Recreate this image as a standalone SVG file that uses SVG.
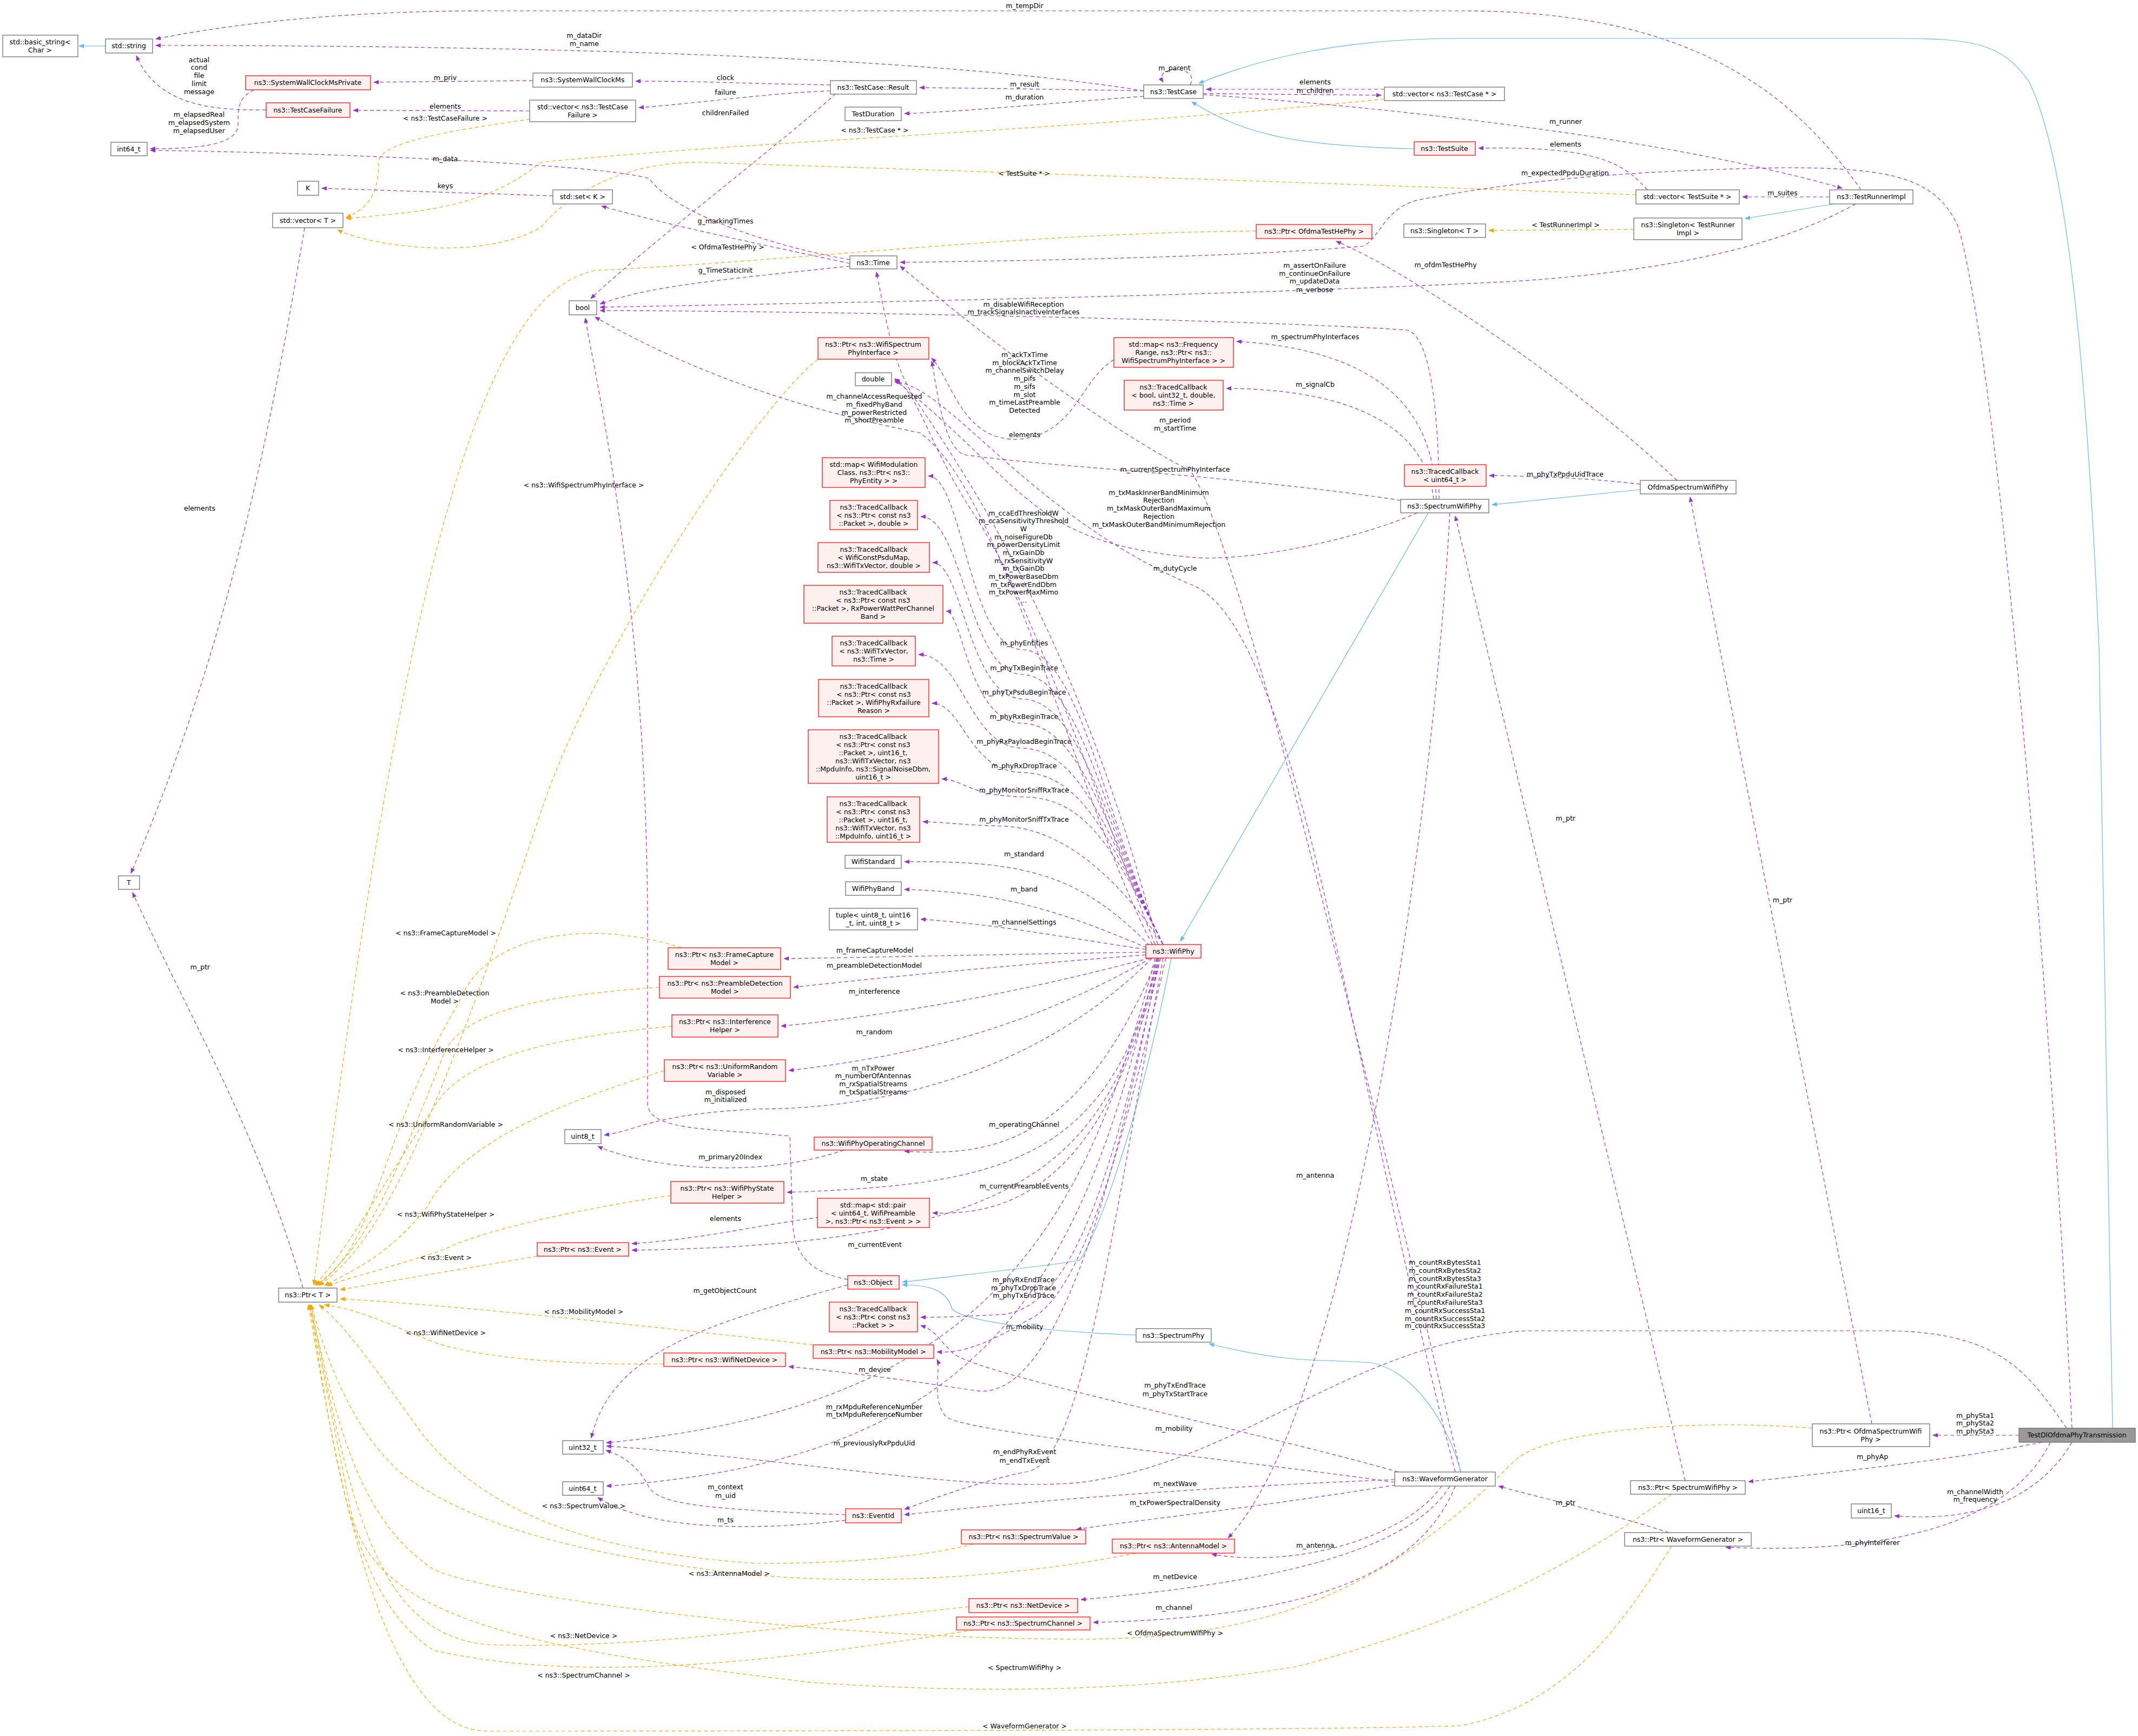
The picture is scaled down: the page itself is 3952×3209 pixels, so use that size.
<svg xmlns="http://www.w3.org/2000/svg" width="3952" height="3209" viewBox="0 0 3952 3209">
<style>
text{font-family:"DejaVu Sans","Liberation Sans",sans-serif;font-size:12.5px;fill:#000;text-anchor:middle}
.n{fill:#fff;stroke:#666;stroke-width:1.2}
.r{fill:#fff0f0;stroke:#f00;stroke-width:1.2}
.g{fill:#999;stroke:#666;stroke-width:1.2}
.u{fill:none;stroke:#9a32cd;stroke-width:1.2;stroke-dasharray:7,5;marker-end:url(#mp)}
.o{fill:none;stroke:#ffa500;stroke-width:1.2;stroke-dasharray:7,5;marker-end:url(#mo)}
.b{fill:none;stroke:#63b8ff;stroke-width:1.2;marker-end:url(#mb)}
</style>
<defs>
<marker id="mp" viewBox="0 0 10 10" refX="9" refY="5" markerWidth="10" markerHeight="10" markerUnits="userSpaceOnUse" orient="auto"><path d="M0,1L10,5L0,9z" fill="#9a32cd"/></marker>
<marker id="mo" viewBox="0 0 10 10" refX="9" refY="5" markerWidth="10" markerHeight="10" markerUnits="userSpaceOnUse" orient="auto"><path d="M0,1L10,5L0,9z" fill="#ffa500"/></marker>
<marker id="mb" viewBox="0 0 10 10" refX="9" refY="5" markerWidth="10" markerHeight="10" markerUnits="userSpaceOnUse" orient="auto"><path d="M0,1L10,5L0,9z" fill="#63b8ff"/></marker>
</defs>
<rect width="3952" height="3209" fill="#fff"/>
<g id="connectors">
<path class="b" d="M195,85 L146,85"/>
<path class="u" d="M3440,351 C3300,150 3100,20 2700,20 L900,20 C600,20 400,50 288,72"/>
<path class="u" d="M2114,168 C1700,100 900,84 288,84"/>
<path class="u" d="M492,203 C380,205 290,190 252,103"/>
<path class="u" d="M985,149 L691,152"/>
<path class="u" d="M1535,157 C1400,155 1300,150 1175,150"/>
<path class="u" d="M1535,168 C1420,172 1300,190 1181,199"/>
<path class="u" d="M1545,173 C1450,260 1200,450 1092,552"/>
<path class="u" d="M979,205 L653,204"/>
<path class="o" d="M980,220 C850,240 700,260 700,300 C700,360 680,385 640,402"/>
<path class="u" d="M470,166 C440,180 440,200 440,230 C440,265 380,275 278,275"/>
<path class="u" d="M1571,480 C1450,460 1250,400 1200,330 C1100,300 500,280 278,278"/>
<path class="u" d="M1022,362 L595,348"/>
<path class="u" d="M1571,487 C1400,450 1250,420 1112,381"/>
<path class="u" d="M1571,492 C1300,520 1200,530 1109,562"/>
<path class="o" d="M2559,183 C2000,240 1400,260 1000,300 C900,380 800,390 640,404"/>
<path class="o" d="M3024,360 C2500,340 1600,310 1290,300 C1150,300 1050,360 1000,420 C900,480 700,460 624,425"/>
<path class="o" d="M2322,427 C1900,430 1500,480 1100,500 C900,540 750,1000 580,2375"/>
<path class="u" d="M3100,888 C2900,700 2600,500 2470,446"/>
<path class="u" d="M2200,157 C2220,120 2130,120 2150,152"/>
<path class="u" d="M2114,168 C1950,165 1800,163 1700,162"/>
<path class="u" d="M2114,178 C1950,190 1800,205 1672,210"/>
<path class="u" d="M2559,165 L2230,165"/>
<path class="u" d="M2224,173 L2553,176"/>
<path class="b" d="M2614,275 C2400,270 2300,250 2203,188"/>
<path class="b" d="M3905,2640 L3880,1200 C3850,500 3800,250 3750,150 C3700,80 3650,71 3500,71 L2700,71 C2450,71 2300,120 2216,154"/>
<path class="u" d="M2224,175 C2600,200 3100,260 3405,348"/>
<path class="u" d="M3045,351 C3000,300 2950,270 2733,274"/>
<path class="u" d="M3382,364 L3221,364"/>
<path class="b" d="M3390,377 L3226,404"/>
<path class="o" d="M3020,424 L2752,426"/>
<path class="u" d="M3430,377 C3300,450 3100,500 2800,520 C2200,550 1500,560 1109,568"/>
<path class="u" d="M3830,2640 C3800,2000 3700,700 3620,420 C3580,330 3500,310 3300,310 C3000,315 2800,335 2620,370 C2560,385 2550,440 2520,455 C2300,475 1900,482 1664,485"/>
<path class="u" d="M2660,923 C2660,800 2650,620 2600,610 C2300,590 1500,575 1109,574"/>
<path class="u" d="M2655,923 C2650,800 2600,650 2286,631"/>
<path class="u" d="M2650,923 C2640,820 2550,720 2267,718"/>
<path class="u" d="M2589,925 C2300,880 1900,860 1780,840 C1740,820 1730,700 1722,668"/>
<path class="u" d="M2620,948 C2500,1000 2300,1040 2200,1030 C1900,1000 1900,900 1654,702"/>
<path class="u" d="M2700,2721 C2600,2300 2300,1000 2200,870 C2100,820 1900,690 1664,492"/>
<path class="u" d="M2690,2721 C2500,2000 2400,1150 2200,1080 C1900,950 1750,710 1654,706"/>
<path class="u" d="M2059,665 C2000,700 1990,790 1900,810 C1780,830 1760,700 1722,662"/>
<path class="u" d="M3032,895 C2900,880 2800,880 2753,879"/>
<path class="b" d="M3032,905 L2758,933"/>
<path class="u" d="M3460,2632 L3124,919"/>
<path class="u" d="M3115,2737 L2690,954"/>
<path class="b" d="M2640,948 L2182,1740"/>
<path class="b" d="M2165,1771 C2100,2100 2020,2300 1995,2330 C1900,2345 1750,2360 1668,2370"/>
<path class="b" d="M2100,2468 C1900,2460 1780,2440 1760,2420 C1750,2385 1720,2375 1668,2375"/>
<path class="b" d="M2700,2721 C2680,2640 2620,2540 2540,2520 C2450,2510 2400,2525 2235,2484"/>
<path class="u" d="M1567,2365 C1480,2350 1465,2300 1465,2250 L1460,2100 C1300,2085 1200,2090 1197,2040 L1197,1700 C1195,1100 1100,700 1082,588"/>
<path class="u" d="M1567,2375 C1300,2450 1130,2500 1093,2658"/>
<path class="u" d="M2130,1771 C1900,2000 1600,2050 1400,2050 C1200,2060 1180,2090 1117,2098"/>
<path class="u" d="M1560,2126 C1400,2180 1200,2160 1105,2119"/>
<path class="u" d="M1515,2250 C1400,2265 1300,2290 1168,2299"/>
<path class="u" d="M2140,1771 C2050,2150 1900,2300 1168,2311"/>
<path class="u" d="M560,2381 C480,2100 360,1900 245,1650"/>
<path class="u" d="M563,421 C500,800 420,1200 242,1614"/>
<path class="u" d="M2135,1771 C2000,2300 1800,2600 1121,2667"/>
<path class="u" d="M2138,1771 C2000,2400 1800,2700 1121,2747"/>
<path class="u" d="M1563,2800 C1300,2790 1220,2780 1200,2750 C1180,2710 1150,2690 1120,2681"/>
<path class="u" d="M1563,2810 C1400,2830 1200,2830 1105,2768"/>
<path class="u" d="M2150,1771 C2050,2300 2000,2700 1900,2720 C1800,2740 1700,2780 1672,2790"/>
<path class="u" d="M2578,2735 C2200,2750 1900,2775 1672,2800"/>
<path class="u" d="M2580,2745 C2300,2790 2100,2810 1990,2827"/>
<path class="u" d="M2665,2747 C2600,2840 2400,2900 2240,2873"/>
<path class="u" d="M2680,948 C2650,1500 2500,2600 2270,2843"/>
<path class="u" d="M2680,2747 C2600,2880 2300,2930 1998,2957"/>
<path class="u" d="M2690,2747 C2620,2920 2400,2990 2021,2999"/>
<path class="u" d="M2578,2740 C2300,2700 1800,2650 1750,2620 C1720,2590 1740,2530 1732,2513"/>
<path class="u" d="M2585,2721 C2300,2640 1800,2540 1760,2500 C1730,2470 1730,2460 1702,2450"/>
<path class="u" d="M2155,1771 C2080,2100 2000,2400 1900,2440 C1800,2500 1760,2500 1732,2499"/>
<path class="u" d="M2145,1771 C2070,2100 2000,2420 1850,2430 C1750,2435 1730,2435 1702,2435"/>
<path class="u" d="M2142,1771 C2060,2200 1950,2600 1800,2570 C1600,2540 1500,2530 1458,2526"/>
<path class="u" d="M3085,2833 C2950,2790 2850,2770 2770,2747"/>
<path class="u" d="M3790,2666 C3700,2850 3400,2870 3190,2860"/>
<path class="u" d="M3830,2666 C3750,2800 3600,2810 3502,2802"/>
<path class="u" d="M3775,2666 C3600,2700 3400,2720 3232,2739"/>
<path class="u" d="M3732,2653 L3573,2653"/>
<path class="u" d="M3820,2640 C3750,2540 3700,2460 3480,2460 L2820,2460 C2500,2480 2300,2700 2000,2740 C1800,2760 1500,2700 1121,2673"/>
<path class="o" d="M1512,664 C1400,750 1100,1200 1000,1500 C800,2100 700,2300 590,2376"/>
<path class="o" d="M1260,1752 C1100,1700 900,1720 850,1850 C700,2100 700,2300 585,2376"/>
<path class="o" d="M1219,1825 C1000,1840 850,1870 820,1950 C720,2200 680,2300 585,2376"/>
<path class="o" d="M1242,1897 C1000,1920 850,1960 800,2050 C700,2200 650,2300 582,2376"/>
<path class="o" d="M1228,1979 C1000,2050 850,2120 790,2230 C720,2320 650,2350 600,2376"/>
<path class="o" d="M1240,2210 C1100,2230 900,2270 820,2310 C700,2350 650,2360 605,2377"/>
<path class="o" d="M993,2322 L629,2384"/>
<path class="o" d="M1503,2486 C1100,2440 800,2410 629,2401"/>
<path class="o" d="M1227,2521 C1000,2525 850,2500 800,2480 C700,2440 660,2420 600,2412"/>
<path class="o" d="M1800,2854 C1700,2880 1550,2890 1400,2890 C1100,2870 900,2800 780,2650 C700,2540 640,2450 590,2412"/>
<path class="o" d="M2100,2871 C1800,2930 1500,2930 1300,2900 C1000,2860 850,2800 750,2730 C650,2650 600,2500 575,2412"/>
<path class="o" d="M1791,2970 C1500,3000 1200,3050 900,3040 C700,3020 650,2800 575,2412"/>
<path class="o" d="M1800,3013 C1500,3060 1100,3120 800,3050 C650,2950 620,2700 573,2412"/>
<path class="o" d="M3350,2640 C3100,2620 2850,2650 2800,2700 C2600,2900 2400,3030 2000,3030 C1500,3030 900,2950 800,2900 C650,2800 620,2600 572,2412"/>
<path class="o" d="M3090,2762 C2900,2900 2700,3000 2400,3080 C2100,3130 1800,3130 1500,3110 C1000,3050 700,3000 650,2800 C620,2650 590,2500 572,2412"/>
<path class="o" d="M3090,2858 C3000,3000 2900,3150 2700,3190 C2400,3200 1200,3200 900,3200 C700,3200 620,2700 570,2412"/>
<path class="u" d="M2140,1746 C2000,1200 1800,900 1700,750 C1650,680 1640,600 1620,503"/>
<path class="u" d="M2135,1746 C2000,1400 1900,1100 1800,950 C1720,830 1700,730 1654,700"/>
<path class="u" d="M2130,1746 C2000,1500 1850,900 1700,800 C1500,760 1300,700 1100,586"/>
<path class="u" d="M2150,1746 C2050,1550 2000,1203 1890,1201 C1790,1199 1780,880 1716,880"/>
<path class="u" d="M2150,1746 C2050,1550 2000,1249 1890,1247 C1790,1245 1780,955 1702,955"/>
<path class="u" d="M2150,1746 C2050,1550 2000,1294 1890,1292 C1790,1290 1780,1040 1724,1040"/>
<path class="u" d="M2150,1746 C2050,1550 2000,1339 1890,1337 C1790,1335 1780,1130 1749,1130"/>
<path class="u" d="M2150,1746 C2050,1550 2000,1385 1890,1383 C1790,1381 1780,1210 1698,1210"/>
<path class="u" d="M2150,1746 C2050,1550 2000,1430 1890,1428 C1790,1426 1780,1300 1723,1300"/>
<path class="u" d="M2150,1746 C2050,1550 2000,1475 1890,1473 C1790,1471 1780,1440 1741,1440"/>
<path class="u" d="M2150,1746 C2050,1600 1950,1529 1850,1527 C1780,1525 1750,1520 1706,1519"/>
<path class="u" d="M2125,1748 C2000,1620 1900,1590 1672,1593"/>
<path class="u" d="M2120,1752 C1950,1680 1850,1650 1672,1644"/>
<path class="u" d="M2118,1755 C1950,1730 1850,1710 1702,1699"/>
<path class="u" d="M2118,1760 C1800,1765 1600,1770 1449,1772"/>
<path class="u" d="M2118,1765 C1800,1790 1600,1810 1467,1825"/>
<path class="u" d="M2125,1771 C1900,1830 1700,1870 1444,1897"/>
<path class="u" d="M2128,1771 C1900,1900 1700,1950 1458,1979"/>
<path class="u" d="M2140,1771 C2000,2100 1850,2140 1672,2128"/>
<path class="u" d="M2142,1771 C2050,2150 1850,2190 1455,2204"/>
<path class="u" d="M2145,1771 C2050,2150 1900,2250 1724,2242"/>
</g>
<g id="labels">
<text x="1894" y="15">m_tempDir</text>
<text x="1080" y="70">m_dataDir</text><text x="1080" y="85">m_name</text>
<text x="368" y="115">actual</text><text x="368" y="129">cond</text><text x="368" y="144">file</text><text x="368" y="159">limit</text><text x="368" y="174">message</text>
<text x="368" y="216">m_elapsedReal</text><text x="368" y="231">m_elapsedSystem</text><text x="368" y="246">m_elapsedUser</text>
<text x="823" y="148">m_priv</text><text x="1341" y="148">clock</text><text x="1341" y="175">failure</text><text x="1341" y="213">childrenFailed</text>
<text x="823" y="201">elements</text><text x="823" y="223">&lt; ns3::TestCaseFailure &gt;</text>
<text x="823" y="298">m_data</text><text x="823" y="348">keys</text><text x="1341" y="413">g_markingTimes</text>
<text x="1345" y="461">&lt; OfdmaTestHePhy &gt;</text><text x="1341" y="504">g_TimeStaticInit</text>
<text x="1079" y="901">&lt; ns3::WifiSpectrumPhyInterface &gt;</text><text x="369" y="944">elements</text>
<text x="2171" y="130">m_parent</text><text x="1894" y="160">m_result</text><text x="1894" y="184">m_duration</text>
<text x="2431" y="156">elements</text><text x="2431" y="172">m_children</text>
<text x="1617" y="245">&lt; ns3::TestCase * &gt;</text><text x="1893" y="325">&lt; TestSuite * &gt;</text>
<text x="2894" y="229">m_runner</text><text x="2894" y="271">elements</text><text x="2893" y="324">m_expectedPpduDuration</text>
<text x="3295" y="361">m_suites</text><text x="2894" y="420">&lt; TestRunnerImpl &gt;</text>
<text x="2430" y="495">m_assertOnFailure</text><text x="2430" y="510">m_continueOnFailure</text><text x="2430" y="524">m_updateData</text><text x="2430" y="540">m_verbose</text>
<text x="2672" y="494">m_ofdmTestHePhy</text>
<text x="1892" y="567">m_disableWifiReception</text><text x="1892" y="581">m_trackSignalsInactiveInterfaces</text>
<text x="2431" y="627">m_spectrumPhyInterfaces</text>
<text x="1894" y="660">m_ackTxTime</text><text x="1894" y="675">m_blockAckTxTime</text><text x="1894" y="689">m_channelSwitchDelay</text><text x="1894" y="704">m_pifs</text><text x="1894" y="719">m_sifs</text><text x="1894" y="734">m_slot</text><text x="1894" y="748">m_timeLastPreamble</text><text x="1894" y="763">Detected</text>
<text x="1616" y="737">m_channelAccessRequested</text><text x="1616" y="752">m_fixedPhyBand</text><text x="1616" y="767">m_powerRestricted</text><text x="1616" y="781">m_shortPreamble</text>
<text x="2431" y="715">m_signalCb</text><text x="2172" y="781">m_period</text><text x="2172" y="796">m_startTime</text>
<text x="1894" y="808">elements</text><text x="2172" y="872">m_currentSpectrumPhyInterface</text>
<text x="2142" y="915">m_txMaskInnerBandMinimum</text><text x="2142" y="929">Rejection</text><text x="2142" y="944">m_txMaskOuterBandMaximum</text><text x="2142" y="959">Rejection</text><text x="2142" y="974">m_txMaskOuterBandMinimumRejection</text>
<text x="1892" y="953">m_ccaEdThresholdW</text><text x="1892" y="967">m_ccaSensitivityThreshold</text><text x="1892" y="982">W</text><text x="1892" y="997">m_noiseFigureDb</text><text x="1892" y="1011">m_powerDensityLimit</text><text x="1892" y="1026">m_rxGainDb</text><text x="1892" y="1041">m_rxSensitivityW</text><text x="1892" y="1055">m_txGainDb</text><text x="1892" y="1070">m_txPowerBaseDbm</text><text x="1892" y="1085">m_txPowerEndDbm</text><text x="1892" y="1099">m_txPowerMaxMimo</text><text x="1892" y="1114">...</text>
<text x="2172" y="1055">m_dutyCycle</text><text x="2893" y="881">m_phyTxPpduUidTrace</text>
<text x="1893" y="1193">m_phyEntities</text><text x="1893" y="1239">m_phyTxBeginTrace</text><text x="1893" y="1284">m_phyTxPsduBeginTrace</text><text x="1893" y="1329">m_phyRxBeginTrace</text><text x="1893" y="1375">m_phyRxPayloadBeginTrace</text><text x="1893" y="1420">m_phyRxDropTrace</text><text x="1893" y="1465">m_phyMonitorSniffRxTrace</text><text x="1893" y="1519">m_phyMonitorSniffTxTrace</text>
<text x="1893" y="1583">m_standard</text><text x="1893" y="1648">m_band</text><text x="1893" y="1709">m_channelSettings</text>
<text x="1617" y="1761">m_frameCaptureModel</text><text x="1616" y="1789">m_preambleDetectionModel</text><text x="1616" y="1837">m_interference</text><text x="1616" y="1912">m_random</text>
<text x="1614" y="1979">m_nTxPower</text><text x="1614" y="1993">m_numberOfAntennas</text><text x="1614" y="2008">m_rxSpatialStreams</text><text x="1614" y="2023">m_txSpatialStreams</text>
<text x="1893" y="2083">m_operatingChannel</text><text x="2431" y="2177">m_antenna</text><text x="1616" y="2183">m_state</text><text x="1893" y="2197">m_currentPreambleEvents</text>
<text x="370" y="1792">m_ptr</text><text x="2894" y="1517">m_ptr</text><text x="3295" y="1668">m_ptr</text>
<text x="824" y="1729">&lt; ns3::FrameCaptureModel &gt;</text><text x="822" y="1840">&lt; ns3::PreambleDetection</text><text x="822" y="1855">Model &gt;</text>
<text x="824" y="1945">&lt; ns3::InterferenceHelper &gt;</text><text x="824" y="2083">&lt; ns3::UniformRandomVariable &gt;</text>
<text x="1341" y="2023">m_disposed</text><text x="1341" y="2037">m_initialized</text><text x="1350" y="2143">m_primary20Index</text>
<text x="824" y="2249">&lt; ns3::WifiPhyStateHelper &gt;</text><text x="1341" y="2257">elements</text><text x="824" y="2329">&lt; ns3::Event &gt;</text>
<text x="1340" y="2390">m_getObjectCount</text><text x="1079" y="2429">&lt; ns3::MobilityModel &gt;</text><text x="824" y="2468">&lt; ns3::WifiNetDevice &gt;</text>
<text x="1341" y="2753">m_context</text><text x="1341" y="2769">m_uid</text><text x="1079" y="2788">&lt; ns3::SpectrumValue &gt;</text><text x="1341" y="2814">m_ts</text>
<text x="1348" y="2913">&lt; ns3::AntennaModel &gt;</text><text x="1079" y="3028">&lt; ns3::NetDevice &gt;</text><text x="1079" y="3101">&lt; ns3::SpectrumChannel &gt;</text>
<text x="1617" y="2305">m_currentEvent</text>
<text x="1892" y="2370">m_phyRxEndTrace</text><text x="1892" y="2385">m_phyTxDropTrace</text><text x="1892" y="2399">m_phyTxEndTrace</text>
<text x="1894" y="2457">m_mobility</text><text x="1617" y="2536">m_device</text>
<text x="2172" y="2565">m_phyTxEndTrace</text><text x="2172" y="2581">m_phyTxStartTrace</text>
<text x="1616" y="2605">m_rxMpduReferenceNumber</text><text x="1616" y="2619">m_txMpduReferenceNumber</text>
<text x="2170" y="2645">m_mobility</text><text x="1616" y="2672">m_previouslyRxPpduUid</text>
<text x="1894" y="2688">m_endPhyRxEvent</text><text x="1894" y="2704">m_endTxEvent</text>
<text x="2172" y="2747">m_nextWave</text><text x="2172" y="2782">m_txPowerSpectralDensity</text><text x="2431" y="2861">m_antenna</text>
<text x="2172" y="2919">m_netDevice</text><text x="2170" y="2976">m_channel</text>
<text x="2172" y="3023">&lt; OfdmaSpectrumWifiPhy &gt;</text><text x="1894" y="3087">&lt; SpectrumWifiPhy &gt;</text><text x="1894" y="3195">&lt; WaveformGenerator &gt;</text>
<text x="2671" y="2338">m_countRxBytesSta1</text><text x="2671" y="2353">m_countRxBytesSta2</text><text x="2671" y="2368">m_countRxBytesSta3</text><text x="2671" y="2382">m_countRxFailureSta1</text><text x="2671" y="2397">m_countRxFailureSta2</text><text x="2671" y="2412">m_countRxFailureSta3</text><text x="2671" y="2427">m_countRxSuccessSta1</text><text x="2671" y="2442">m_countRxSuccessSta2</text><text x="2671" y="2455">m_countRxSuccessSta3</text>
<text x="3651" y="2621">m_phySta1</text><text x="3651" y="2635">m_phySta2</text><text x="3651" y="2650">m_phySta3</text>
<text x="3461" y="2697">m_phyAp</text><text x="3651" y="2762">m_channelWidth</text><text x="3651" y="2776">m_frequency</text>
<text x="3461" y="2856">m_phyInterferer</text><text x="2894" y="2782">m_ptr</text>
</g>
<g id="basic_string"><rect class="n" x="5" y="65" width="139" height="40"/><text x="74" y="82">std::basic_string&lt;</text><text x="74" y="97">Char &gt;</text></g>
<g id="string"><rect class="n" x="195" y="72" width="87" height="26"/><text x="238" y="89">std::string</text></g>
<g id="int64"><rect class="n" x="205" y="263" width="67" height="25"/><text x="238" y="280">int64_t</text></g>
<g id="swcmp"><rect class="r" x="454" y="140" width="231" height="26"/><text x="569" y="157">ns3::SystemWallClockMsPrivate</text></g>
<g id="tcf"><rect class="r" x="492" y="190" width="155" height="27"/><text x="569" y="208">ns3::TestCaseFailure</text></g>
<g id="swcm"><rect class="n" x="985" y="135" width="184" height="26"/><text x="1077" y="152">ns3::SystemWallClockMs</text></g>
<g id="vtcf"><rect class="n" x="979" y="185" width="196" height="40"/><text x="1077" y="202">std::vector&lt; ns3::TestCase</text><text x="1077" y="217">Failure &gt;</text></g>
<g id="K"><rect class="n" x="550" y="335" width="39" height="26"/><text x="569" y="352">K</text></g>
<g id="vecT"><rect class="n" x="504" y="394" width="130" height="27"/><text x="569" y="412">std::vector&lt; T &gt;</text></g>
<g id="setK"><rect class="n" x="1022" y="351" width="110" height="26"/><text x="1077" y="368">std::set&lt; K &gt;</text></g>
<g id="bool"><rect class="n" x="1052" y="556" width="51" height="26"/><text x="1077" y="573">bool</text></g>
<g id="result"><rect class="n" x="1535" y="149" width="159" height="25"/><text x="1614" y="166">ns3::TestCase::Result</text></g>
<g id="testdur"><rect class="n" x="1562" y="198" width="104" height="25"/><text x="1614" y="215">TestDuration</text></g>
<g id="testcase"><rect class="n" x="2114" y="157" width="110" height="25"/><text x="2169" y="174">ns3::TestCase</text></g>
<g id="vtc"><rect class="n" x="2559" y="161" width="222" height="25"/><text x="2670" y="178">std::vector&lt; ns3::TestCase * &gt;</text></g>
<g id="testsuite"><rect class="r" x="2614" y="262" width="113" height="25"/><text x="2670" y="279">ns3::TestSuite</text></g>
<g id="vts"><rect class="n" x="3024" y="351" width="191" height="26"/><text x="3119" y="368">std::vector&lt; TestSuite * &gt;</text></g>
<g id="tri"><rect class="n" x="3382" y="351" width="154" height="26"/><text x="3459" y="368">ns3::TestRunnerImpl</text></g>
<g id="singTRI"><rect class="n" x="3020" y="403" width="200" height="40"/><text x="3120" y="420">ns3::Singleton&lt; TestRunner</text><text x="3120" y="435">Impl &gt;</text></g>
<g id="singT"><rect class="n" x="2595" y="414" width="151" height="25"/><text x="2670" y="431">ns3::Singleton&lt; T &gt;</text></g>
<g id="ptrOTHP"><rect class="r" x="2322" y="415" width="214" height="26"/><text x="2429" y="432">ns3::Ptr&lt; OfdmaTestHePhy &gt;</text></g>
<g id="time"><rect class="n" x="1571" y="473" width="87" height="24"/><text x="1614" y="490">ns3::Time</text></g>
<g id="ptrWSPI"><rect class="r" x="1512" y="624" width="205" height="40"/><text x="1614" y="641">ns3::Ptr&lt; ns3::WifiSpectrum</text><text x="1614" y="656">PhyInterface &gt;</text></g>
<g id="double"><rect class="n" x="1581" y="689" width="67" height="24"/><text x="1614" y="705">double</text></g>
<g id="mapFreq"><rect class="r" x="2059" y="624" width="221" height="55"/><text x="2169" y="641">std::map&lt; ns3::Frequency</text><text x="2169" y="656">Range, ns3::Ptr&lt; ns3::</text><text x="2169" y="671">WifiSpectrumPhyInterface &gt; &gt;</text></g>
<g id="tcBool"><rect class="r" x="2078" y="703" width="183" height="55"/><text x="2169" y="720">ns3::TracedCallback</text><text x="2169" y="735">&lt; bool, uint32_t, double,</text><text x="2169" y="750">ns3::Time &gt;</text></g>
<g id="mapMod"><rect class="r" x="1520" y="846" width="190" height="55"/><text x="1615" y="863">std::map&lt; WifiModulation</text><text x="1615" y="878">Class, ns3::Ptr&lt; ns3::</text><text x="1615" y="893">PhyEntity &gt; &gt;</text></g>
<g id="tcPD"><rect class="r" x="1534" y="925" width="162" height="54"/><text x="1615" y="942">ns3::TracedCallback</text><text x="1615" y="957">&lt; ns3::Ptr&lt; const ns3</text><text x="1615" y="972">::Packet &gt;, double &gt;</text></g>
<g id="tcPsdu"><rect class="r" x="1512" y="1003" width="206" height="55"/><text x="1615" y="1020">ns3::TracedCallback</text><text x="1615" y="1035">&lt; WifiConstPsduMap,</text><text x="1615" y="1050">ns3::WifiTxVector, double &gt;</text></g>
<g id="tcRxPow"><rect class="r" x="1486" y="1082" width="257" height="70"/><text x="1614" y="1099">ns3::TracedCallback</text><text x="1614" y="1114">&lt; ns3::Ptr&lt; const ns3</text><text x="1614" y="1129">::Packet &gt;, RxPowerWattPerChannel</text><text x="1614" y="1144">Band &gt;</text></g>
<g id="tcTxV"><rect class="r" x="1538" y="1176" width="154" height="55"/><text x="1615" y="1193">ns3::TracedCallback</text><text x="1615" y="1208">&lt; ns3::WifiTxVector,</text><text x="1615" y="1223">ns3::Time &gt;</text></g>
<g id="tcRxF"><rect class="r" x="1513" y="1256" width="204" height="69"/><text x="1615" y="1273">ns3::TracedCallback</text><text x="1615" y="1288">&lt; ns3::Ptr&lt; const ns3</text><text x="1615" y="1303">::Packet &gt;, WifiPhyRxfailure</text><text x="1615" y="1318">Reason &gt;</text></g>
<g id="tcSNR"><rect class="r" x="1494" y="1349" width="241" height="99"/><text x="1614" y="1366">ns3::TracedCallback</text><text x="1614" y="1381">&lt; ns3::Ptr&lt; const ns3</text><text x="1614" y="1396">::Packet &gt;, uint16_t,</text><text x="1614" y="1411">ns3::WifiTxVector, ns3</text><text x="1614" y="1426">::MpduInfo, ns3::SignalNoiseDbm,</text><text x="1614" y="1441">uint16_t &gt;</text></g>
<g id="tcMpdu"><rect class="r" x="1529" y="1473" width="171" height="84"/><text x="1614" y="1490">ns3::TracedCallback</text><text x="1614" y="1505">&lt; ns3::Ptr&lt; const ns3</text><text x="1614" y="1520">::Packet &gt;, uint16_t,</text><text x="1614" y="1535">ns3::WifiTxVector, ns3</text><text x="1614" y="1550">::MpduInfo, uint16_t &gt;</text></g>
<g id="wifiStd"><rect class="n" x="1562" y="1581" width="104" height="24"/><text x="1614" y="1597">WifiStandard</text></g>
<g id="wifiBand"><rect class="n" x="1563" y="1630" width="103" height="25"/><text x="1614" y="1647">WifiPhyBand</text></g>
<g id="tuple"><rect class="n" x="1533" y="1679" width="163" height="40"/><text x="1614" y="1696">tuple&lt; uint8_t, uint16</text><text x="1614" y="1711">_t, int, uint8_t &gt;</text></g>
<g id="wifiPhy"><rect class="r" x="2118" y="1746" width="102" height="25"/><text x="2169" y="1763">ns3::WifiPhy</text></g>
<g id="ptrFC"><rect class="r" x="1235" y="1752" width="208" height="40"/><text x="1339" y="1769">ns3::Ptr&lt; ns3::FrameCapture</text><text x="1339" y="1784">Model &gt;</text></g>
<g id="ptrPD"><rect class="r" x="1219" y="1805" width="242" height="40"/><text x="1340" y="1822">ns3::Ptr&lt; ns3::PreambleDetection</text><text x="1340" y="1837">Model &gt;</text></g>
<g id="ptrIH"><rect class="r" x="1242" y="1876" width="196" height="41"/><text x="1340" y="1893">ns3::Ptr&lt; ns3::Interference</text><text x="1340" y="1908">Helper &gt;</text></g>
<g id="ptrUR"><rect class="r" x="1228" y="1959" width="224" height="40"/><text x="1340" y="1976">ns3::Ptr&lt; ns3::UniformRandom</text><text x="1340" y="1991">Variable &gt;</text></g>
<g id="uint8"><rect class="n" x="1044" y="2088" width="67" height="26"/><text x="1077" y="2105">uint8_t</text></g>
<g id="wpoc"><rect class="r" x="1505" y="2102" width="218" height="24"/><text x="1614" y="2118">ns3::WifiPhyOperatingChannel</text></g>
<g id="ptrWPSH"><rect class="r" x="1240" y="2184" width="209" height="40"/><text x="1344" y="2201">ns3::Ptr&lt; ns3::WifiPhyState</text><text x="1344" y="2216">Helper &gt;</text></g>
<g id="mapPair"><rect class="r" x="1511" y="2215" width="207" height="54"/><text x="1614" y="2232">std::map&lt; std::pair</text><text x="1614" y="2247">&lt; uint64_t, WifiPreamble</text><text x="1614" y="2262">&gt;, ns3::Ptr&lt; ns3::Event &gt; &gt;</text></g>
<g id="ptrEvent"><rect class="r" x="993" y="2297" width="169" height="25"/><text x="1077" y="2314">ns3::Ptr&lt; ns3::Event &gt;</text></g>
<g id="object"><rect class="r" x="1567" y="2358" width="95" height="25"/><text x="1614" y="2375">ns3::Object</text></g>
<g id="ptrT"><rect class="n" x="515" y="2381" width="108" height="26"/><text x="569" y="2398">ns3::Ptr&lt; T &gt;</text></g>
<g id="tcPkt"><rect class="r" x="1533" y="2407" width="163" height="55"/><text x="1614" y="2424">ns3::TracedCallback</text><text x="1614" y="2439">&lt; ns3::Ptr&lt; const ns3</text><text x="1614" y="2454">::Packet &gt; &gt;</text></g>
<g id="ptrMob"><rect class="r" x="1503" y="2486" width="223" height="25"/><text x="1614" y="2503">ns3::Ptr&lt; ns3::MobilityModel &gt;</text></g>
<g id="ptrWND"><rect class="r" x="1227" y="2501" width="225" height="25"/><text x="1339" y="2518">ns3::Ptr&lt; ns3::WifiNetDevice &gt;</text></g>
<g id="spectrumPhy"><rect class="n" x="2100" y="2456" width="139" height="25"/><text x="2169" y="2473">ns3::SpectrumPhy</text></g>
<g id="uint32"><rect class="n" x="1040" y="2663" width="75" height="25"/><text x="1077" y="2680">uint32_t</text></g>
<g id="uint64"><rect class="n" x="1040" y="2739" width="75" height="25"/><text x="1077" y="2756">uint64_t</text></g>
<g id="wg"><rect class="n" x="2578" y="2721" width="186" height="26"/><text x="2671" y="2738">ns3::WaveformGenerator</text></g>
<g id="eventId"><rect class="r" x="1563" y="2789" width="103" height="26"/><text x="1614" y="2806">ns3::EventId</text></g>
<g id="ptrSV"><rect class="r" x="1777" y="2828" width="230" height="26"/><text x="1892" y="2845">ns3::Ptr&lt; ns3::SpectrumValue &gt;</text></g>
<g id="ptrAM"><rect class="r" x="2056" y="2845" width="226" height="26"/><text x="2169" y="2862">ns3::Ptr&lt; ns3::AntennaModel &gt;</text></g>
<g id="ptrND"><rect class="r" x="1791" y="2955" width="201" height="26"/><text x="1891" y="2972">ns3::Ptr&lt; ns3::NetDevice &gt;</text></g>
<g id="ptrSC"><rect class="r" x="1768" y="2989" width="247" height="24"/><text x="1891" y="3005">ns3::Ptr&lt; ns3::SpectrumChannel &gt;</text></g>
<g id="T"><rect class="n" x="219" y="1619" width="39" height="25"/><text x="238" y="1636">T</text></g>
<g id="spectrumWifiPhy"><rect class="n" x="2589" y="923" width="163" height="25"/><text x="2670" y="940">ns3::SpectrumWifiPhy</text></g>
<g id="tcU64"><rect class="r" x="2596" y="859" width="151" height="40"/><text x="2671" y="876">ns3::TracedCallback</text><text x="2671" y="891">&lt; uint64_t &gt;</text></g>
<g id="ofdmaSWP"><rect class="n" x="3032" y="888" width="177" height="25"/><text x="3120" y="905">OfdmaSpectrumWifiPhy</text></g>
<g id="ptrOSWP"><rect class="n" x="3350" y="2632" width="217" height="42"/><text x="3458" y="2650">ns3::Ptr&lt; OfdmaSpectrumWifi</text><text x="3458" y="2665">Phy &gt;</text></g>
<g id="testDl"><rect class="g" x="3732" y="2640" width="215" height="26"/><text x="3839" y="2657">TestDlOfdmaPhyTransmission</text></g>
<g id="ptrSWP"><rect class="n" x="3014" y="2737" width="212" height="25"/><text x="3120" y="2754">ns3::Ptr&lt; SpectrumWifiPhy &gt;</text></g>
<g id="uint16"><rect class="n" x="3422" y="2780" width="74" height="26"/><text x="3459" y="2797">uint16_t</text></g>
<g id="ptrWG"><rect class="n" x="3003" y="2833" width="234" height="25"/><text x="3120" y="2850">ns3::Ptr&lt; WaveformGenerator &gt;</text></g>
</svg>
